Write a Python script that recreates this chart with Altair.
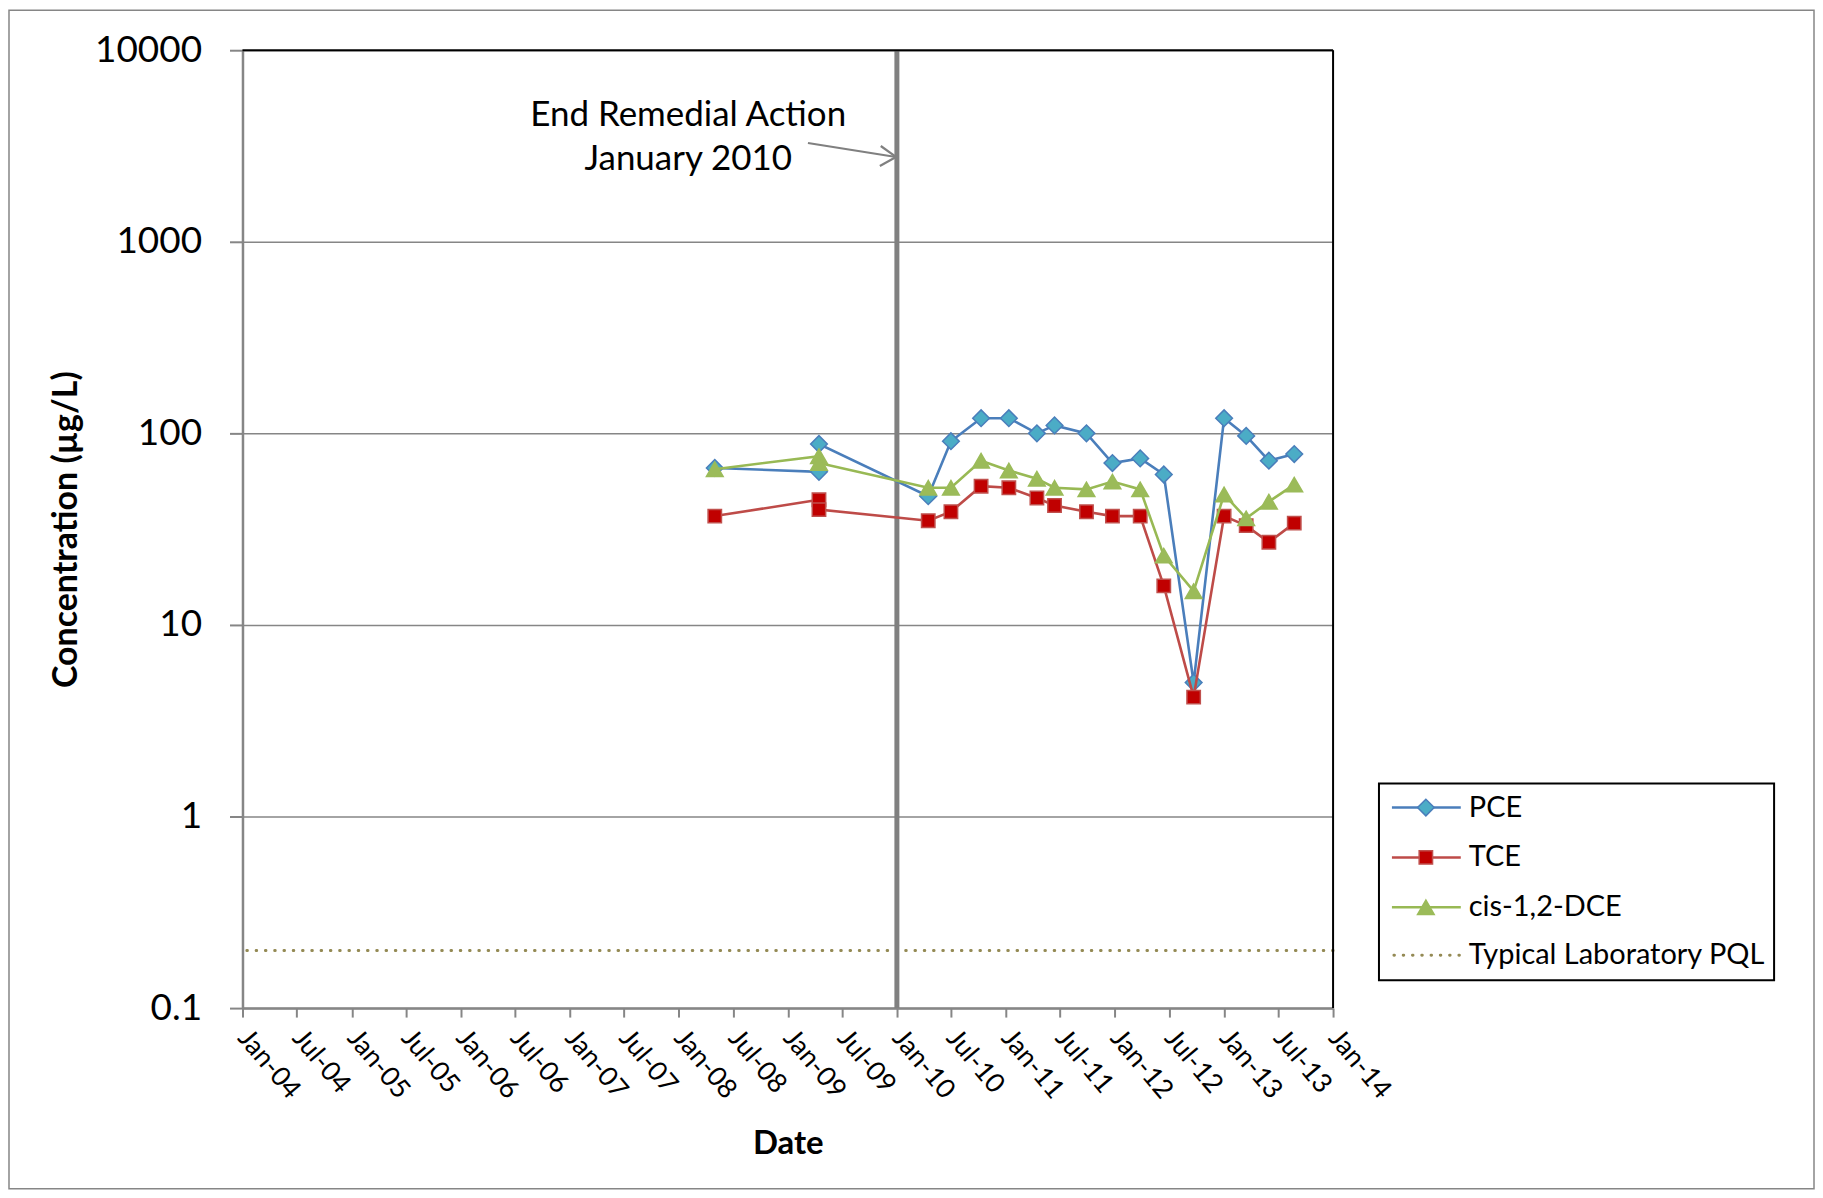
import altair as alt
import pandas as pd

# ---------------- data ----------------
sample_dates = ["2008-05-01", "2009-04-15", "2009-04-15", "2010-04-16", "2010-07-01",
                "2010-10-10", "2011-01-11", "2011-04-15", "2011-06-13", "2011-09-28",
                "2011-12-24", "2012-03-26", "2012-06-13", "2012-09-21", "2013-01-01",
                "2013-03-16", "2013-05-31", "2013-08-24"]
pce = [66, 63, 88, 47, 91, 120, 120, 100, 110, 100, 70, 74, 61, 5, 120, 97, 72, 78]
tce = [37, 45, 40, 35, 39, 53, 52, 46, 42, 39, 37, 37, 16, 4.2, 37, 33, 27, 34]
dce = [65, 76, 70, 52, 52, 72, 64, 58, 52, 51, 56, 51, 23, 15, 48, 36, 44, 54]

series_names = ["PCE", "TCE", "cis-1,2-DCE", "Typical Laboratory PQL"]
pql_value = [0.2]
event_date = ["2010-01-01"]

y_ticks = [0.1, 1, 10, 100, 1000, 10000]
x_tick_dates = ["2004-01-01", "2004-07-01", "2005-01-01", "2005-07-01", "2006-01-01",
                "2006-07-01", "2007-01-01", "2007-07-01", "2008-01-01", "2008-07-01",
                "2009-01-01", "2009-07-01", "2010-01-01", "2010-07-01", "2011-01-01",
                "2011-07-01", "2012-01-01", "2012-07-01", "2013-01-01", "2013-07-01",
                "2014-01-01"]
x_domain = ["2004-01-01", "2014-01-01"]

annot_text = ["End Remedial Action", "January 2010"]
annot_pos = {"date": ["2008-02-02"], "value": [4018]}
arrow_from = {"date": ["2009-03-09", "2009-12-29", "2009-12-29"],
              "value": [3279, 2772, 2772]}
arrow_to = {"date": ["2009-12-29", "2009-11-08", "2009-11-05"],
            "value": [2772, 3162, 2489]}

# ---------------- styles ----------------
FONT = "Lato"
GRID = "#868686"
line_colors = ["#4A7EBB", "#BE4B48", "#98B954"]
fill_colors = ["#4BACC6", "#C00000", "#9BBB59"]
stroke_colors = ["#4A7EBB", "#C0504D", "#9BBB59"]
shapes = ["diamond", "square", "triangle-up"]
sizes = [280, 180, 280]
pql_color = "#948A54"

W, H = 1093, 960


def dt(s):
    return alt.DateTime(year=int(s[:4]), month=int(s[5:7]), date=int(s[8:10]), utc=True)


x_scale = alt.Scale(type="utc", domain=[dt(d) for d in x_domain], nice=False)
y_scale = alt.Scale(type="log", domain=[y_ticks[0], y_ticks[-1]], nice=False)

x_axis = alt.Axis(
    values=[dt(d) for d in x_tick_dates], format="%b-%y", labelAngle=50,
    labelAlign="left", labelBaseline="middle", labelFont=FONT, labelFontSize=27,
    labelColor="#000000", labelPadding=16, labelOverlap=False, labelFlush=False,
    tickSize=9, tickColor=GRID, tickWidth=2, domainColor=GRID, domainWidth=2.5,
    grid=False, title="Date", titleFont=FONT, titleFontSize=33, titleFontWeight="bold",
    titleColor="#000000", titleX=W / 2, titleY=136, titleBaseline="middle", titleAlign="center",
)
y_axis = alt.Axis(
    values=y_ticks, format="~g", labelFont=FONT, labelFontSize=37, labelColor="#000000",
    labelPadding=28, labelFlush=False, labelBaseline="middle",
    tickSize=13, tickColor=GRID, tickWidth=2, domainColor=GRID, domainWidth=2.5,
    grid=True, gridColor=GRID, gridWidth=1.5,
    title="Concentration (µg/L)", titleFont=FONT, titleFontSize=34, titleFontWeight="bold",
    titleColor="#000000", titleAngle=-90, titleX=-176, titleY=H / 2,
    titleAlign="center", titleBaseline="middle",
)


def X(field):
    return alt.X(field, type="temporal", scale=x_scale, axis=x_axis)


def Y(field):
    return alt.Y(field, type="quantitative", scale=y_scale, axis=y_axis)


one = pd.DataFrame({"a": [0]})
layers = []

# outer chart-area border
layers.append(alt.Chart(one).mark_rect(fillOpacity=0, stroke=GRID, strokeWidth=1.5).encode(
    x=alt.value(-234), x2=alt.value(1575), y=alt.value(-40), y2=alt.value(1141)))

# PQL dotted line
pql_df = pd.DataFrame({"value": pql_value})
layers.append(alt.Chart(pql_df).mark_rule(color=pql_color, strokeWidth=3, strokeDash=[0.5, 8.8],
                                          strokeCap="round").encode(y=Y("value")))

# End remedial action vertical line
ev_df = pd.DataFrame({"date": event_date})
layers.append(alt.Chart(ev_df).mark_rule(color="#808080", strokeWidth=5).encode(x=X("date")))

# series
series_values = [pce, tce, dce]
for i, vals in enumerate(series_values):
    df = pd.DataFrame({"date": sample_dates, "value": vals, "idx": list(range(len(vals)))})
    base = alt.Chart(df)
    layers.append(base.mark_line(color=line_colors[i], strokeWidth=2.6).encode(
        x=X("date"), y=Y("value"), order=alt.Order("idx:Q")))
    layers.append(base.mark_point(shape=shapes[i], size=sizes[i], filled=True, opacity=1,
                                  fill=fill_colors[i], stroke=stroke_colors[i], strokeWidth=1.5).encode(
        x=X("date"), y=Y("value")))

# plot-area border (top and right, black)
layers.append(alt.Chart(one).mark_rule(color="#000000", strokeWidth=2).encode(
    x=alt.value(0), x2=alt.value(W), y=alt.value(0)))
layers.append(alt.Chart(one).mark_rule(color="#000000", strokeWidth=2).encode(
    x=alt.value(W), y=alt.value(0), y2=alt.value(H)))

# annotation
ann_df = pd.DataFrame({"date": annot_pos["date"], "value": annot_pos["value"],
                       "label": ["\n".join(annot_text)]})
layers.append(alt.Chart(ann_df).mark_text(font=FONT, fontSize=35, lineBreak="\n", lineHeight=44,
                                          align="center", baseline="alphabetic", color="#000000").encode(
    x=X("date"), y=Y("value"), text="label:N"))
arr_df = pd.DataFrame({"date": arrow_from["date"], "value": arrow_from["value"],
                       "date2": arrow_to["date"], "value2": arrow_to["value"]})
layers.append(alt.Chart(arr_df).mark_rule(color="#808080", strokeWidth=2.2).encode(
    x=X("date"), y=Y("value"), x2="date2:T", y2="value2:Q"))

# legend (drawn manually, pixel layout)
lx0, lx1, ly0, ly1 = 1139, 1535, 735, 932
row_y = [759, 809, 859, 907]
sym_x0, sym_x1, sym_xc, txt_x = 1152, 1221, 1186, 1229
layers.append(alt.Chart(one).mark_rect(fill="#FFFFFF", stroke="#000000", strokeWidth=2).encode(
    x=alt.value(lx0), x2=alt.value(lx1), y=alt.value(ly0), y2=alt.value(ly1)))
for i, name in enumerate(series_names):
    if i < 3:
        layers.append(alt.Chart(one).mark_rule(color=line_colors[i], strokeWidth=2.6).encode(
            x=alt.value(sym_x0), x2=alt.value(sym_x1), y=alt.value(row_y[i])))
        layers.append(alt.Chart(one).mark_point(shape=shapes[i], size=sizes[i], filled=True, opacity=1,
                                                fill=fill_colors[i], stroke=stroke_colors[i],
                                                strokeWidth=1.5).encode(
            x=alt.value(sym_xc), y=alt.value(row_y[i])))
    else:
        layers.append(alt.Chart(one).mark_rule(color=pql_color, strokeWidth=3, strokeDash=[0.5, 8.8],
                                               strokeCap="round").encode(
            x=alt.value(sym_x0 + 2), x2=alt.value(sym_x1), y=alt.value(row_y[i])))
    layers.append(alt.Chart(one).mark_text(font=FONT, fontSize=29, align="left", baseline="middle",
                                           color="#000000").encode(
        x=alt.value(txt_x), y=alt.value(row_y[i]), text=alt.value(name)))

chart = alt.layer(*layers).properties(width=W, height=H, padding=0).configure_view(
    strokeWidth=0).configure(background="#FFFFFF")

chart.save("out.html", embed_options={"renderer": "svg", "actions": False})
